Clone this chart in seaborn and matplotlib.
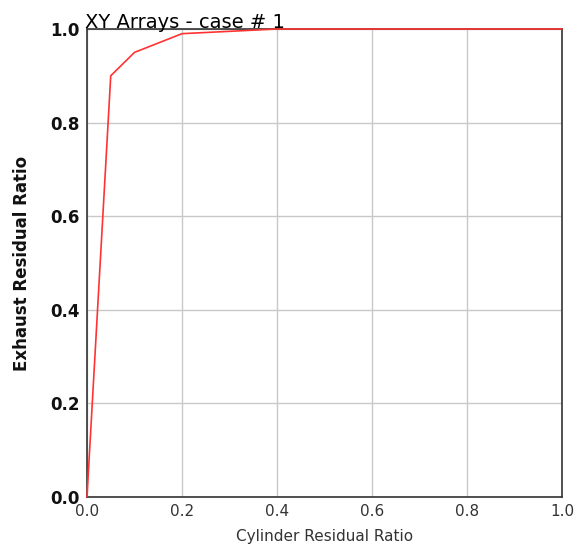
import matplotlib
matplotlib.use("Agg")
import matplotlib.pyplot as plt
import seaborn as sns
import pandas as pd

x_vals = [0.0, 0.05, 0.1, 0.2, 0.4, 1.0]
y_vals = [0.0, 0.90, 0.95, 0.99, 1.0, 1.0]
ticks = [0.0, 0.2, 0.4, 0.6, 0.8, 1.0]

sns.set_style("white")
plt.rcParams['font.family'] = ['DejaVu Sans']

df = pd.DataFrame({"x": x_vals, "y": y_vals})
fig = plt.figure(figsize=(5.78, 5.45), dpi=100)
ax = fig.add_axes([0.1505, 0.0881, 0.8218, 0.8587])
ax.grid(True, color="#c8c8c8", linewidth=1)
sns.lineplot(data=df, x="x", y="y", ax=ax, color="#ff3333", linewidth=1.2, sort=False, estimator=None)
for ln in ax.lines:
    ln.set_clip_on(False)
    ln.set_zorder(5)
ax.set_xlim(0, 1)
ax.set_ylim(0, 1)
ax.set_xticks(ticks)
ax.set_yticks(ticks)
ax.set_xticklabels([f"{t:.1f}" for t in ticks], fontsize=11, color="#333333")
ax.set_yticklabels([f"{t:.1f}" for t in ticks], fontsize=12, fontweight="bold", color="#111111")
ax.tick_params(axis="both", length=0, pad=5)
ax.set_xlabel("Cylinder Residual Ratio", fontsize=11, color="#333333", labelpad=7)
ax.set_ylabel("Exhaust Residual Ratio", fontsize=12, fontweight="bold", color="#111111", labelpad=14)
ax.set_title("XY Arrays - case # 1", fontsize=14, loc="left", pad=1, x=-0.005, color="black")
for s in ax.spines.values():
    s.set_visible(True)
    s.set_color("#333333")
    s.set_linewidth(1.2)
fig.savefig("out.png", dpi=100)
